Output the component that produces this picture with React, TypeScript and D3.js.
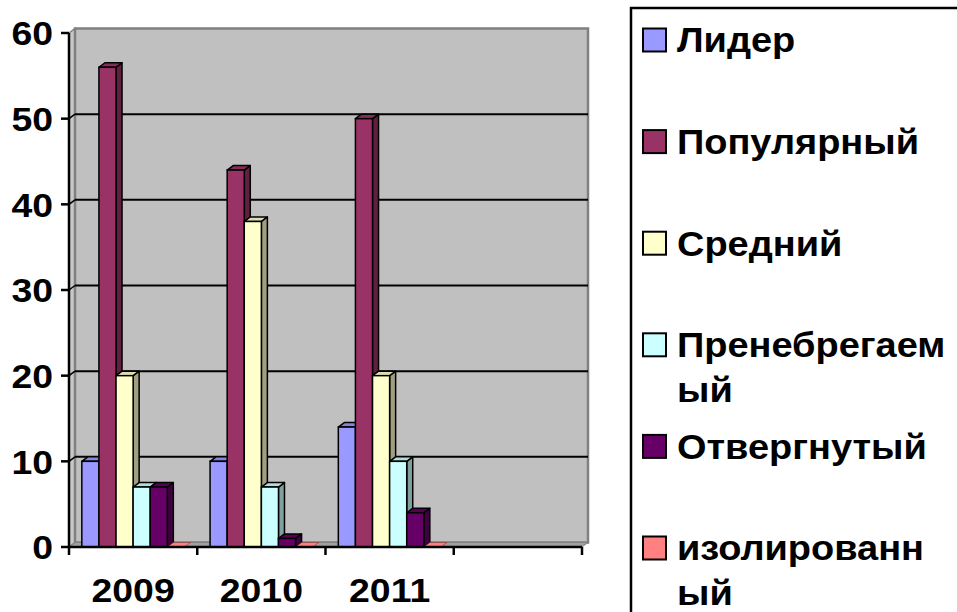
import React from "react";
import * as d3 from "d3";

const categories = ["2009", "2010", "2011", ""];
const seriesNames = ["Лидер", "Популярный", "Средний", "Пренебрегаемый", "Отвергнутый", "изолированный"];
const legendLines = [["Лидер"], ["Популярный"], ["Средний"], ["Пренебрегаем", "ый"], ["Отвергнутый"], ["изолированн", "ый"]];
const seriesColors = ["#9999FF", "#993366", "#FFFFCC", "#CCFFFF", "#660066", "#FF8080"];
const lider = [10, 10, 14, null];
const populyarny = [56, 44, 50, null];
const sredny = [20, 38, 20, null];
const prenebregaemy = [7, 7, 10, null];
const otvergnuty = [7, 1, 4, null];
const izolirovanny = [0, 0, 0, null];
const seriesValues = [lider, populyarny, sredny, prenebregaemy, otvergnuty, izolirovanny];
const yTicks = [0, 10, 20, 30, 40, 50, 60];

const W = 957, H = 612;
const FONT = "'Liberation Sans', Arial, sans-serif";
const SX = 1.1;

export default function App() {
  const left = 69, right = 582, top = 33, bottom = 547;
  const dx = 6, dy = -4.5;
  const x = d3.scaleBand<string>().domain(categories).range([left, right]).paddingInner(0).paddingOuter(0);
  const xs = d3.scaleBand<string>().domain(seriesNames).range([0, x.bandwidth()]).paddingInner(0).paddingOuter(0.75);
  const y = d3.scaleLinear().domain([0, 60]).range([bottom, top]);

  const bars: React.ReactNode[] = [];
  categories.forEach((cat, ci) => {
    seriesNames.forEach((s, si) => {
      const v = seriesValues[si][ci];
      if (v === null || v === undefined) return;
      const x0 = (x(cat) as number) + (xs(s) as number);
      const bw = xs.bandwidth();
      const x1 = x0 + bw;
      const yt = y(v);
      const yb = y(0);
      const c = d3.color(seriesColors[si])!;
      const side = c.darker(1.3).formatHex();
      const topC = c.darker(0.4).formatHex();
      const sidePath = `M${x1},${yb} L${x1 + dx},${yb + dy} L${x1 + dx},${yt + dy} L${x1},${yt} Z`;
      const topPath = `M${x0},${yt} L${x0 + dx},${yt + dy} L${x1 + dx},${yt + dy} L${x1},${yt} Z`;
      bars.push(
        <g key={`${ci}-${si}`}>
          {v > 0 && <path d={sidePath} fill={side} stroke="#000" strokeWidth={1.5} strokeLinejoin="round" />}
          <path d={topPath} fill={v > 0 ? topC : seriesColors[si]} stroke={v > 0 ? "#000" : "#803030"} strokeWidth={v > 0 ? 1.5 : 0.6} strokeLinejoin="round" />
          {v > 0 && <rect x={x0} y={yt} width={bw} height={yb - yt} fill={seriesColors[si]} stroke="#000" strokeWidth={1.5} />}
        </g>
      );
    });
  });

  const legendX = 631, legendY = 8;
  const itemY0 = 40, itemStep = 101.6, lineH = 45;

  return (
    <svg width={W} height={H} style={{ position: "absolute", left: 0, top: 0, background: "#fff" }} fontFamily={FONT}>
      {/* left side wall */}
      <path d={`M${left},${top} L${left + dx},${top + dy} L${left + dx},${bottom + dy} L${left},${bottom} Z`} fill="#C8C8C8" stroke="#808080" strokeWidth={1.5} />
      {/* back wall */}
      <rect x={left + dx} y={top + dy} width={right - left} height={bottom - top} fill="#C0C0C0" stroke="#808080" strokeWidth={2.5} />
      {/* floor */}
      <path d={`M${left},${bottom} L${left + dx},${bottom + dy} L${right + dx},${bottom + dy} L${right},${bottom} Z`} fill="#A0A0A0" stroke="#808080" strokeWidth={1} />
      {/* gridlines */}
      {yTicks.filter(t => t > 0 && t < 60).map(t => (
        <g key={t}>
          <line x1={left} y1={y(t)} x2={left + dx} y2={y(t) + dy} stroke="#000" strokeWidth={1.5} />
          <line x1={left + dx} y1={y(t) + dy} x2={right + dx} y2={y(t) + dy} stroke="#000" strokeWidth={2} />
        </g>
      ))}
      {bars}
      {/* y axis */}
      <line x1={left} y1={top} x2={left} y2={bottom} stroke="#000" strokeWidth={2.5} />
      {yTicks.map(t => (
        <g key={t}>
          <line x1={left - 8} y1={y(t)} x2={left} y2={y(t)} stroke="#000" strokeWidth={2.5} />
          <text transform={`translate(53,${y(t)}) scale(${SX},1)`} dy="0.36em" textAnchor="end" fontSize={34} fontWeight="bold">{t}</text>
        </g>
      ))}
      {/* x axis */}
      <line x1={left} y1={bottom} x2={right} y2={bottom} stroke="#000" strokeWidth={2.5} />
      {categories.map(c => (x(c) as number)).concat([right]).map((xv, i) => (
        <line key={i} x1={xv} y1={bottom} x2={xv} y2={bottom + 8} stroke="#000" strokeWidth={2.5} />
      ))}
      {categories.map(c => (
        <text key={c} transform={`translate(${(x(c) as number) + x.bandwidth() / 2},602) scale(${SX},1)`} textAnchor="middle" fontSize={34} fontWeight="bold">{c}</text>
      ))}
      {/* legend */}
      <rect x={legendX} y={legendY} width={400} height={700} fill="#fff" stroke="#000" strokeWidth={2.5} />
      {seriesNames.map((s, i) => {
        const cy = itemY0 + i * itemStep;
        return (
          <g key={s}>
            <rect x={643} y={cy - 11.5} width={23} height={23} fill={seriesColors[i]} stroke="#000" strokeWidth={2} />
            {legendLines[i].map((ln, li) => (
              <text key={li} transform={`translate(677,${cy + li * lineH}) scale(${SX},1)`} dy="0.36em" fontSize={34.5} fontWeight="bold">{ln}</text>
            ))}
          </g>
        );
      })}
    </svg>
  );
}
